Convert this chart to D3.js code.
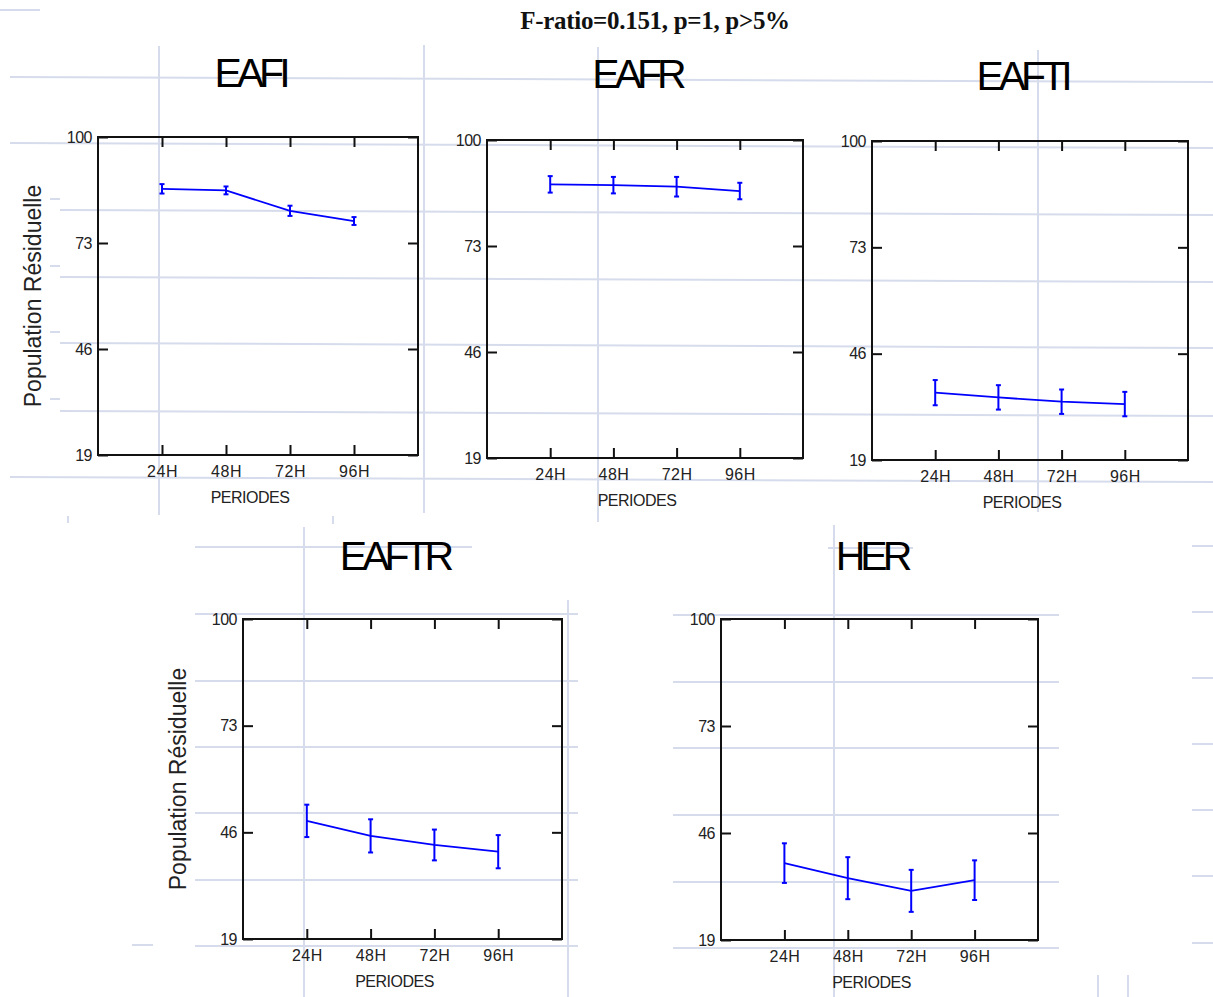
<!DOCTYPE html>
<html>
<head>
<meta charset="utf-8">
<script src="https://cdn.jsdelivr.net/npm/d3@7"></script>
<style>
  html, body { margin: 0; padding: 0; background: #fff; }
  svg { display: block; }
  .tick text { font-family: "Liberation Sans", Arial, sans-serif; fill: #222; }
</style>
</head>
<body>
<svg id="chart" width="1213" height="997"></svg>
<script>
var mainTitle = "F-ratio=0.151, p=1, p>5%";
var yLabel = "Population Résiduelle";
var xLabel = "PERIODES";

var periods = ["24H", "48H", "72H", "96H"];
var yTickValues = [19, 46, 73, 100];
var yDomain = [19, 100];

var panelTitles = ["EAFI", "EAFR", "EAFTI", "EAFTR", "HER"];

// moyennes et demi-intervalles
var meansEAFI = [86.8, 86.4, 81.2, 78.6];
var errEAFI   = [1.2, 1.0, 1.3, 1.0];
var meansEAFR = [88.7, 88.5, 88.1, 87.0];
var errEAFR   = [2.1, 2.1, 2.5, 2.1];
var meansEAFTI = [36.1, 34.9, 33.8, 33.2];
var errEAFTI   = [3.2, 3.1, 3.1, 3.1];
var meansEAFTR = [48.9, 45.1, 42.8, 41.1];
var errEAFTR   = [4.1, 4.2, 3.9, 4.2];
var meansHER = [38.4, 34.6, 31.4, 34.1];
var errHER   = [5.0, 5.3, 5.3, 5.0];

var panels = [
  { title: panelTitles[0], means: meansEAFI,  errs: errEAFI,  left: 98,  top: 137, width: 320, height: 318, showY: true,  titleY: 87 },
  { title: panelTitles[1], means: meansEAFR,  errs: errEAFR,  left: 487, top: 140, width: 316, height: 318, showY: false, titleY: 88 },
  { title: panelTitles[2], means: meansEAFTI, errs: errEAFTI, left: 872, top: 141, width: 316, height: 319, showY: false, titleY: 90 },
  { title: panelTitles[3], means: meansEAFTR, errs: errEAFTR, left: 243, top: 619, width: 319, height: 320, showY: true,  titleY: 570 },
  { title: panelTitles[4], means: meansHER,   errs: errHER,   left: 721, top: 619, width: 317, height: 321, showY: false, titleY: 570 }
];

// lignes du fond (quadrillage de la page)
var sheetLines = [
  [0, 10, 40, 10],
  [10, 77, 1213, 82], [10, 143, 1213, 148], [60, 210, 1213, 215], [60, 277, 1213, 282],
  [60, 343, 1213, 348], [60, 411, 1213, 416], [10, 477, 1213, 482],
  [50, 199, 60, 199], [50, 266, 60, 266], [50, 332, 60, 332], [50, 399, 60, 399],
  [159, 46, 159, 515], [424, 45, 424, 513], [598, 47, 598, 522], [1038, 50, 1038, 512],
  [68, 516, 68, 523], [333, 516, 333, 524],
  [195, 547, 472, 547], [195, 614, 578, 614], [195, 681, 578, 681], [195, 747, 578, 747],
  [195, 813, 578, 813], [195, 880, 578, 880], [195, 946, 578, 946], [132, 945, 153, 945],
  [828, 548, 913, 548], [673, 615, 1059, 615], [673, 682, 1059, 682], [673, 748, 1059, 748],
  [673, 815, 1059, 815], [673, 882, 1059, 882], [673, 948, 1059, 948],
  [1192, 546, 1213, 546], [1192, 612, 1213, 612], [1192, 678, 1213, 678], [1192, 744, 1213, 744],
  [1192, 810, 1213, 810], [1192, 876, 1213, 876], [1192, 943, 1213, 943],
  [304, 527, 304, 997], [568, 600, 568, 997], [834, 525, 834, 997],
  [1098, 975, 1098, 997], [1128, 975, 1128, 997]
];

var svg = d3.select("#chart");

svg.append("g")
  .selectAll("line")
  .data(sheetLines)
  .enter().append("line")
    .attr("x1", function(d){ return d[0]; })
    .attr("y1", function(d){ return d[1]; })
    .attr("x2", function(d){ return d[2]; })
    .attr("y2", function(d){ return d[3]; })
    .attr("stroke", "#d6dcec")
    .attr("stroke-width", 2);

svg.append("text")
  .attr("x", 655)
  .attr("y", 29)
  .attr("text-anchor", "middle")
  .attr("font-family", "'Liberation Serif', 'Times New Roman', serif")
  .attr("font-weight", "bold")
  .attr("font-size", 25)
  .attr("letter-spacing", "-0.3px")
  .attr("fill", "#111")
  .text(mainTitle);

function styleAxis(sel){
  sel.select(".domain").remove();
  sel.selectAll(".tick line")
    .attr("stroke", "#111")
    .attr("stroke-width", 2);
}

function drawPanel(p){
  var g = svg.append("g")
    .attr("transform", "translate(" + p.left + "," + p.top + ")");

  var x = d3.scalePoint()
    .domain(periods)
    .range([0, p.width])
    .padding(1);
  var y = d3.scaleLinear()
    .domain(yDomain)
    .range([p.height, 0]);

  var data = periods.map(function(d, i){
    return { period: d, mean: p.means[i], err: p.errs[i] };
  });

  // ticks interieurs sur les quatre cotes
  g.append("g")
    .attr("transform", "translate(0," + p.height + ")")
    .call(d3.axisBottom(x).tickSizeInner(-10).tickSizeOuter(0).tickPadding(11))
    .call(styleAxis)
    .selectAll("text")
      .attr("font-size", 16)
      .attr("letter-spacing", "0.5px");

  g.append("g")
    .call(d3.axisTop(x).tickSizeInner(-10).tickSizeOuter(0).tickFormat(""))
    .call(styleAxis);

  g.append("g")
    .call(d3.axisLeft(y).tickValues(yTickValues).tickSizeInner(-10).tickSizeOuter(0).tickPadding(6))
    .call(styleAxis)
    .selectAll("text")
      .attr("font-size", 16)
      .attr("letter-spacing", "-0.5px");

  g.append("g")
    .attr("transform", "translate(" + p.width + ",0)")
    .call(d3.axisRight(y).tickValues(yTickValues).tickSizeInner(-10).tickSizeOuter(0).tickFormat(""))
    .call(styleAxis);

  g.append("rect")
    .attr("width", p.width)
    .attr("height", p.height)
    .attr("fill", "none")
    .attr("stroke", "#111")
    .attr("stroke-width", 2);

  var line = d3.line()
    .x(function(d){ return x(d.period); })
    .y(function(d){ return y(d.mean); });

  g.append("path")
    .datum(data)
    .attr("fill", "none")
    .attr("stroke", "#0000ff")
    .attr("stroke-width", 1.8)
    .attr("d", line);

  var bars = g.selectAll(".err")
    .data(data)
    .enter().append("g")
      .attr("class", "err");

  bars.append("line")
    .attr("x1", function(d){ return x(d.period); })
    .attr("x2", function(d){ return x(d.period); })
    .attr("y1", function(d){ return y(d.mean - d.err); })
    .attr("y2", function(d){ return y(d.mean + d.err); })
    .attr("stroke", "#0000ff")
    .attr("stroke-width", 2);

  [-1, 1].forEach(function(s){
    bars.append("line")
      .attr("x1", function(d){ return x(d.period) - 2.5; })
      .attr("x2", function(d){ return x(d.period) + 2.5; })
      .attr("y1", function(d){ return y(d.mean + s * d.err); })
      .attr("y2", function(d){ return y(d.mean + s * d.err); })
      .attr("stroke", "#0000ff")
      .attr("stroke-width", 2);
  });

  svg.append("text")
    .attr("x", p.left + p.width / 2 - 8)
    .attr("y", p.titleY)
    .attr("text-anchor", "middle")
    .attr("font-family", "'Liberation Sans', Arial, sans-serif")
    .attr("font-size", 41)
    .attr("letter-spacing", "-5px")
    .attr("fill", "#000")
    .text(p.title);

  g.append("text")
    .attr("x", p.width / 2 - 8)
    .attr("y", p.height + 48)
    .attr("text-anchor", "middle")
    .attr("font-family", "'Liberation Sans', Arial, sans-serif")
    .attr("font-size", 16)
    .attr("letter-spacing", "-0.5px")
    .attr("fill", "#222")
    .text(xLabel);

  if (p.showY){
    g.append("text")
      .attr("transform", "translate(" + (-57) + "," + (p.height / 2) + ") rotate(-90)")
      .attr("text-anchor", "middle")
      .attr("font-family", "'Liberation Sans', Arial, sans-serif")
      .attr("font-size", 23)
      .attr("fill", "#222")
      .text(yLabel);
  }
}

panels.forEach(drawPanel);
</script>
</body>
</html>
